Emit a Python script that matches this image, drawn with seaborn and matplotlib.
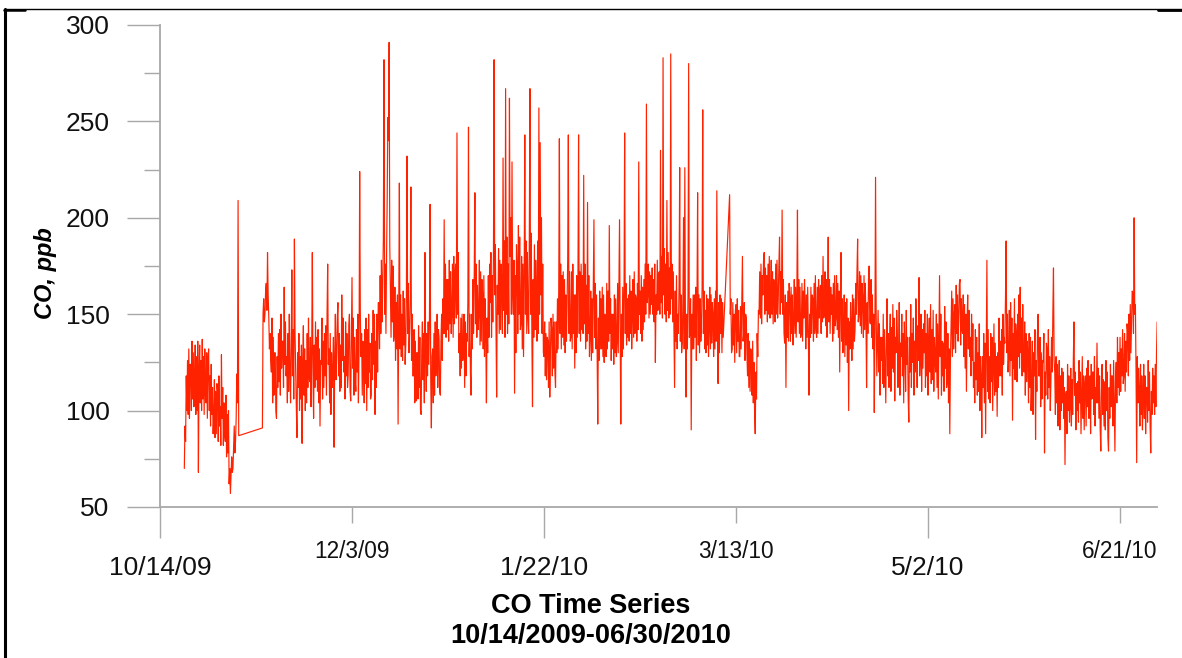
import numpy as np
import pandas as pd
import matplotlib
matplotlib.use("Agg")
import matplotlib.pyplot as plt
import matplotlib.dates as mdates
from matplotlib.lines import Line2D
import seaborn as sns

N = None  # no reading (instrument down)

# CO, ppb -- six readings per day (00, 04, 08, 12, 16, 20 h), one row per day
oct_2009 = [  # starts Oct 20
    [N, N, 70, 92, 84, 118], [100, 126, 98, 132, 96, 124],
    [124, 100, 136, 106, 130, 102], [112, 134, 98, 128, 100, 136],
    [68, 120, 134, 104, 126, 100], [137, 106, 128, 98, 132, 108],
    [104, 130, 96, 126, 132, 100], [118, 92, 124, 98, 112, 88],
    [96, 116, 86, 110, 88, 114], [110, 84, 118, 92, 102, 82],
    [129, 96, 112, 82, 104, 88], [84, 108, 76, 98, 78, 100],
]
nov_2009 = [
    [62, 70, 57, 66, 76, 68], [70, 82, 92, 78, 84, 96],
    [119, 104, 209, 87, N, N],
    [N, N, N, N, N, N], [N, N, N, N, N, N], [N, N, N, N, N, N],
    [N, N, N, N, N, N], [N, N, N, N, N, N],
    [N, N, N, N, 91, 150], [158, 146, 150, 162, 166, 152],
    [182, 160, 148, 132, 140, 126], [120, 148, 104, 138, 108, 130],
    [130, 100, 96, 128, 112, 140], [115, 142, 108, 150, 122, 136],
    [136, 112, 164, 124, 146, 118], [128, 104, 140, 110, 150, 122],
    [104, 132, 173, 118, 142, 106], [189, 140, 120, 102, 86, 130],
    [112, 140, 100, 128, 106, 134], [83, 126, 144, 108, 132, 100],
    [126, 104, 140, 112, 148, 118], [115, 138, 102, 130, 182, 120],
    [96, 134, 112, 146, 116, 138], [110, 142, 104, 132, 92, 126],
    [124, 148, 106, 136, 112, 140], [118, 144, 108, 150, 176, 124],
    [132, 104, 140, 98, 130, 112], [120, 138, 81, 128, 150, 116],
    [128, 148, 156, 118, 140, 110], [134, 112, 160, 126, 148, 120],
]
dec_2009 = [
    [128, 106, 146, 118, 140, 112], [118, 144, 150, 110, 105, 136],
    [169, 122, 148, 108, 138, 116], [110, 142, 120, 150, 104, 132],
    [224, 150, 128, 140, 108, 136], [130, 104, 142, 114, 148, 100],
    [142, 112, 150, 120, 135, 106], [108, 140, 116, 152, 124, 150],
    [98, 136, 112, 150, 120, 156], [156, 132, 170, 140, 178, 146],
    [165, 190, 282, 150, 176, 140], [180, 210, 252, 240, 291, 186],
    [162, 138, 178, 146, 175, 136], [140, 164, 126, 156, 132, 160],
    [93, 150, 218, 132, 160, 128], [150, 126, 162, 134, 158, 124],
    [134, 160, 232, 140, 166, 130], [140, 158, 216, 126, 150, 118],
    [118, 142, 104, 136, 105, 130], [130, 106, 144, 112, 138, 100],
    [98, 132, 146, 116, 140, 104], [182, 128, 110, 140, 118, 146],
    [124, 148, 207, 116, 91, 128], [132, 104, 140, 108, 146, 118],
    [126, 150, 112, 142, 138, 110], [108, 136, 150, 126, 158, 140],
    [199, 140, 176, 138, 168, 142], [168, 136, 178, 145, 172, 140],
    [150, 176, 138, 180, 145, 170], [176, 148, 244, 150, 182, 130],
    [140, 118, 148, 122, 150, 126],
]
jan_2010 = [
    [130, 150, 112, 146, 118, 140], [136, 156, 247, 128, 150, 120],
    [108, 150, 132, 168, 140, 172], [213, 145, 176, 138, 165, 142],
    [150, 178, 134, 172, 136, 168], [160, 132, 170, 128, 158, 140],
    [104, 148, 130, 170, 138, 176], [156, 182, 138, 170, 146, 180],
    [282, 160, 186, 142, 107, 165], [150, 184, 140, 178, 142, 176],
    [165, 140, 231, 152, 188, 138], [267, 150, 190, 140, 176, 145],
    [262, 180, 200, 150, 229, 160], [150, 178, 109, 170, 130, 186],
    [175, 140, 196, 150, 190, 142], [145, 180, 132, 176, 128, 170],
    [243, 150, 188, 140, 182, 148], [140, 186, 267, 150, 192, 140],
    [102, 168, 138, 186, 142, 178], [160, 136, 188, 140, 257, 150],
    [239, 160, 200, 140, 176, 130], [128, 146, 118, 140, 116, 138],
    [136, 112, 146, 107, 130, 148], [142, 118, 150, 122, 146, 120],
    [112, 146, 130, 158, 132, 162], [241, 140, 176, 132, 170, 138],
    [172, 134, 168, 130, 160, 136], [155, 178, 243, 140, 172, 136],
    [138, 172, 132, 176, 140, 160], [122, 160, 130, 170, 138, 166],
    [243, 140, 172, 136, 176, 142],
]
feb_2010 = [
    [170, 140, 222, 145, 176, 132], [165, 136, 208, 140, 170, 128],
    [138, 162, 126, 158, 130, 164], [199, 138, 166, 132, 160, 130],
    [93, 148, 126, 162, 132, 158], [132, 164, 128, 160, 125, 150],
    [145, 128, 166, 132, 162, 136], [196, 140, 158, 126, 150, 132],
    [150, 124, 160, 130, 158, 128], [135, 166, 130, 162, 199, 140],
    [93, 150, 128, 164, 132, 160], [244, 140, 166, 134, 158, 138],
    [160, 136, 170, 140, 162, 132], [148, 168, 138, 172, 140, 160],
    [158, 136, 166, 142, 229, 150], [162, 140, 170, 136, 164, 142],
    [168, 146, 176, 150, 259, 156], [160, 176, 148, 172, 150, 170],
    [155, 174, 150, 168, 146, 176], [125, 160, 150, 178, 152, 170],
    [172, 150, 235, 156, 180, 148], [283, 160, 184, 150, 176, 146],
    [209, 152, 182, 148, 174, 150], [285, 158, 176, 146, 172, 140],
    [112, 162, 136, 170, 132, 150], [140, 164, 226, 136, 160, 130],
    [135, 158, 200, 132, 226, 140], [107, 150, 132, 160, 280, 138],
]
mar_2010 = [
    [140, 158, 90, 150, 132, 160], [132, 160, 138, 164, 126, 156],
    [213, 134, 160, 130, 158, 136], [145, 164, 256, 140, 162, 132],
    [152, 130, 160, 134, 158, 128], [142, 164, 132, 160, 135, 156],
    [150, 128, 158, 132, 162, 136], [214, 140, 114, 156, 130, 160],
    [140, 158, 130, 156, 138, N], [N, N, N, N, N, N],
    [N, N, 212, 150, 158, 130], [132, 156, 134, 150, 125, 152],
    [155, 130, 158, 136, 152, 128], [128, 154, 132, 158, 180, 136],
    [140, 156, 126, 150, 148, 130], [118, 140, 112, 136, 110, 132],
    [130, 108, 136, 104, 125, 100], [88, 120, 106, 140, 128, 152],
    [150, 172, 148, 176, 145, 170], [160, 178, 182, 150, 174, 152],
    [170, 146, 176, 150, 180, 148], [155, 178, 150, 172, 145, 168],
    [165, 146, 176, 150, 178, 148], [158, 176, 190, 150, 172, 156],
    [204, 150, 168, 140, 135, 160], [112, 156, 138, 162, 136, 166],
    [158, 136, 164, 140, 160, 134], [145, 168, 140, 164, 138, 160],
    [204, 146, 168, 140, 164, 138], [140, 166, 136, 162, 148, 168],
    [155, 132, 160, 138, 164, 140],
]
apr_2010 = [
    [108, 150, 138, 164, 140, 160], [158, 136, 166, 140, 170, 142],
    [138, 164, 140, 168, 148, 162], [165, 140, 170, 146, 180, 148],
    [150, 172, 144, 168, 138, 160], [190, 146, 168, 140, 164, 150],
    [160, 136, 166, 140, 170, 144], [148, 170, 142, 166, 138, 162],
    [120, 156, 182, 136, 158, 130], [140, 160, 128, 156, 134, 158],
    [125, 148, 100, 146, 132, 156], [145, 126, 160, 132, 158, 136],
    [142, 166, 150, 172, 189, 146], [150, 172, 144, 170, 140, 166],
    [158, 138, 170, 142, 166, 148], [112, 156, 140, 168, 175, 146],
    [145, 168, 138, 160, 132, 150], [99, 142, 221, 150, 118, 135],
    [152, 120, 145, 108, 138, 126], [138, 114, 150, 112, 142, 124],
    [104, 136, 158, 118, 140, 112], [135, 150, 110, 143, 122, 155],
    [120, 148, 105, 138, 130, 152], [142, 112, 128, 156, 108, 135],
    [128, 150, 118, 140, 104, 146], [132, 110, 152, 124, 138, 106],
    [94, 138, 120, 155, 112, 140], [125, 148, 108, 136, 120, 158],
    [138, 112, 144, 126, 169, 118], [130, 150, 110, 142, 122, 145],
]
may_2010 = [
    [130, 152, 112, 140, 118, 150], [108, 136, 148, 120, 155, 114],
    [142, 116, 152, 110, 138, 128], [120, 150, 112, 145, 106, 140],
    [170, 128, 150, 108, 136, 118], [135, 110, 154, 122, 146, 112],
    [115, 140, 104, 132, 88, 126], [145, 162, 128, 158, 132, 150],
    [155, 130, 165, 140, 160, 136], [148, 166, 168, 134, 158, 142],
    [140, 160, 128, 155, 122, 150], [110, 146, 160, 132, 152, 128],
    [138, 118, 150, 126, 145, 112], [125, 104, 142, 116, 138, 108],
    [130, 110, 145, 100, 128, 118], [86, 128, 112, 140, 104, 135],
    [88, 132, 178, 110, 142, 106], [128, 104, 140, 115, 138, 100],
    [122, 145, 108, 135, 110, 128], [97, 130, 112, 148, 118, 136],
    [118, 142, 108, 150, 124, 138], [135, 158, 188, 130, 150, 120],
    [128, 152, 118, 156, 126, 148], [95, 140, 122, 158, 116, 145],
    [138, 115, 150, 128, 160, 122], [164, 130, 148, 118, 155, 126],
    [120, 146, 108, 140, 115, 136], [128, 104, 140, 112, 138, 100],
    [112, 136, 98, 130, 118, 142], [85, 126, 110, 140, 150, 118],
    [118, 138, 102, 130, 106, 126],
]
jun_2010 = [
    [125, 140, 78, 120, 108, 135], [132, 106, 142, 112, 128, 100],
    [115, 138, 120, 150, 174, 126], [120, 98, 128, 104, 124, 92],
    [112, 126, 90, 118, 100, 122], [104, 120, 96, 112, 72, 108],
    [110, 88, 124, 100, 118, 94], [102, 122, 92, 116, 98, 126],
    [146, 108, 120, 90, 114, 100], [115, 94, 126, 104, 120, 88],
    [108, 128, 96, 118, 90, 114], [118, 92, 122, 102, 126, 96],
    [96, 118, 88, 124, 106, 120], [120, 98, 128, 92, 112, 104],
    [135, 104, 122, 96, 118, 90], [79, 110, 124, 98, 116, 92],
    [115, 90, 126, 100, 120, 86], [79, 112, 96, 124, 102, 118],
    [118, 92, 126, 104, 79, 116], [125, 104, 138, 112, 130, 108],
    [138, 110, 132, 118, 142, 114], [118, 140, 110, 136, 120, 145],
    [140, 118, 150, 126, 155, 130], [145, 162, 161, 140, 200, 150],
    [155, 120, 73, 128, 104, 122], [110, 92, 124, 98, 118, 90],
    [104, 124, 96, 118, 88, 112], [112, 94, 126, 100, 120, 92],
    [78, 110, 98, 122, 104, 118], [98, 124, 102, 130, 146, 110],
]

month_starts = ["2009-10-20", "2009-11-01", "2009-12-01", "2010-01-01",
                "2010-02-01", "2010-03-01", "2010-04-01", "2010-05-01",
                "2010-06-01"]
months = [oct_2009, nov_2009, dec_2009, jan_2010, feb_2010, mar_2010,
          apr_2010, may_2010, jun_2010]

tick_dates = ["2009-10-14", "2009-12-03", "2010-01-22", "2010-03-13",
              "2010-05-02", "2010-06-21"]
tick_labels = ["10/14/09", "12/3/09", "1/22/10", "3/13/10", "5/2/10", "6/21/10"]
y_major = [50, 100, 150, 200, 250, 300]
y_minor = [75, 125, 175, 225, 275]

# assemble the 4-hourly series; gaps are bridged by the line
frames = []
for start, rows in zip(month_starts, months):
    vals = np.array(rows, dtype=float).ravel()
    times = pd.Timestamp(start) + pd.to_timedelta(np.arange(len(vals)) * 4, unit="h")
    frames.append(pd.DataFrame({"time": times, "co": vals}))
df = pd.concat(frames, ignore_index=True).dropna()

sns.set_theme(style="white")
plt.rcParams["font.family"] = ["Liberation Sans", "DejaVu Sans"]

W, H = 1182, 658
fig = plt.figure(figsize=(W / 100, H / 100), dpi=100)
ax = fig.add_axes([160 / W, 1 - 507 / H, 997 / W, 482 / H])

sns.lineplot(data=df, x="time", y="co", ax=ax, color="#ff2200",
             linewidth=0.85, estimator=None, sort=False)

ax.set_xlim(pd.Timestamp("2009-10-14"), pd.Timestamp("2010-06-30 15:00"))
ax.set_ylim(50, 300)

grey = "#a8a8a8"
for side in ("top", "right"):
    ax.spines[side].set_visible(False)
for side in ("left", "bottom"):
    ax.spines[side].set_color(grey)
    ax.spines[side].set_linewidth(1.3)

tnum = mdates.date2num(pd.to_datetime(tick_dates))
ax.set_xticks(tnum[0::2], tick_labels[0::2])
ax.set_xticks(tnum[1::2], tick_labels[1::2], minor=True)
ax.set_yticks(y_major, [str(v) for v in y_major])
ax.set_yticks(y_minor, minor=True)

ax.tick_params(axis="x", which="major", direction="out", length=22.5, width=1,
               color=grey, labelsize=19, pad=13, labelcolor="#111111")
ax.tick_params(axis="x", which="minor", direction="out", length=11.5, width=1,
               color=grey, labelsize=16.3, pad=12.5, labelcolor="#111111")
ax.tick_params(axis="y", which="major", direction="out", length=23.8, width=1,
               color=grey, labelsize=19, pad=12.5, labelcolor="#111111")
ax.tick_params(axis="y", which="minor", direction="out", length=11.5, width=1,
               color=grey)
ax.tick_params(bottom=True, left=True, which="both")

ax.set_xlabel("")
ax.set_ylabel("CO, ppb", fontsize=17, fontweight="bold", fontstyle="italic",
              color="black")
ax.yaxis.set_label_coords((57 - 160) / 997, (507 - 273) / 482)

fig.text(0.5, 1 - 606 / H, "CO Time Series", ha="center", va="center",
         fontsize=19.5, fontweight="bold", color="black")
fig.text(0.5, 1 - 636 / H, "10/14/2009-06/30/2010", ha="center", va="center",
         fontsize=19.5, fontweight="bold", color="black")

# page frame
fig.add_artist(Line2D([5 / W, 5 / W], [0, 1 - 9 / H], color="black", lw=2.2,
                      transform=fig.transFigure))
fig.add_artist(Line2D([4 / W, 1], [1 - 9 / H, 1 - 9 / H], color="black", lw=1.0,
                      transform=fig.transFigure))
fig.add_artist(Line2D([4 / W, 25 / W], [1 - 9.5 / H, 1 - 9.5 / H], color="black",
                      lw=1.8, transform=fig.transFigure))
fig.add_artist(Line2D([1158 / W, 1], [1 - 10 / H, 1 - 10 / H], color="black",
                      lw=2.0, transform=fig.transFigure))

fig.savefig("out.png", dpi=100)
